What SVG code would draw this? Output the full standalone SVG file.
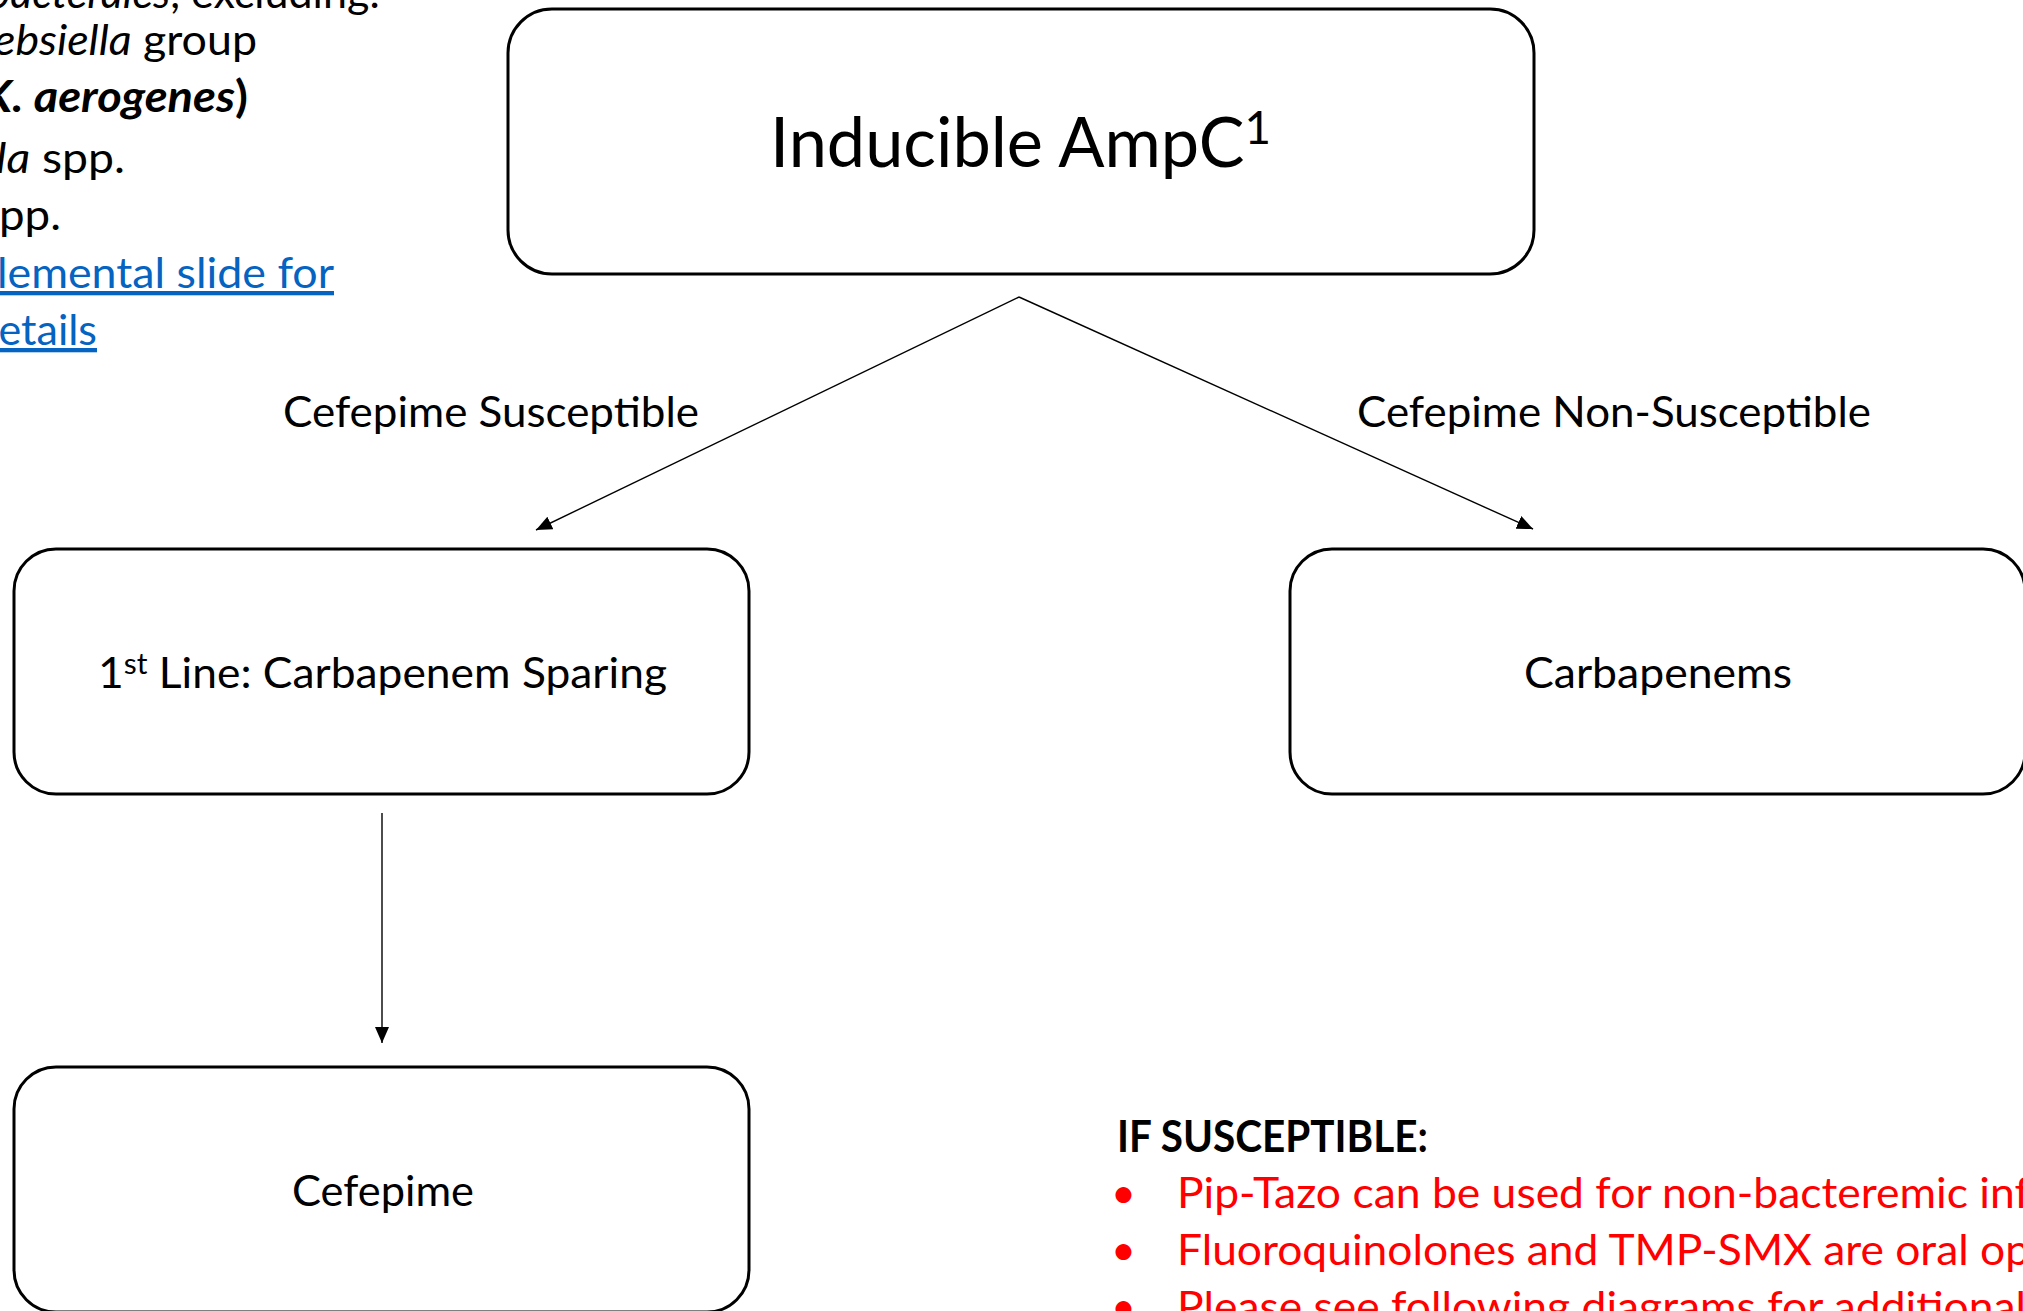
<svg xmlns="http://www.w3.org/2000/svg" width="2023" height="1311" viewBox="0 0 2023 1311">
  <style>
    text { font-family: Lato, "Open Sans", sans-serif; fill: #000; }
    .box { fill: #fff; stroke: #000; stroke-width: 3; }
    .lbl { font-size: 43px; }
    .title { font-size: 69px; }
    .it { font-style: italic; }
    .bd { font-weight: bold; }
    .link { fill: #0563C1; text-decoration: underline; }
    .red { fill: #FF0000; }
    .conn { fill: none; stroke: #000; stroke-width: 1.4; marker-end: url(#arrow); }
  </style>
  <defs>
    <marker id="arrow" viewBox="0 0 16 14" refX="16" refY="7" markerWidth="16" markerHeight="14" markerUnits="userSpaceOnUse" orient="auto">
      <path d="M0,0 L16,7 L0,14 z" fill="#000"/>
    </marker>
  </defs>

  <rect width="2023" height="1311" fill="#fff"/>

  <!-- organism list, running off the left edge -->
  <g id="organism-list" class="lbl" text-anchor="end">
    <text x="380" y="8"><tspan class="it">bacterales</tspan>, excluding:</text>
    <text x="257" y="55" textLength="263" lengthAdjust="spacingAndGlyphs"><tspan class="it">ebsiella</tspan> group</text>
    <text x="248" y="112" class="bd" textLength="266" lengthAdjust="spacingAndGlyphs"><tspan class="it">K. aerogenes</tspan>)</text>
    <text x="125" y="173" textLength="129" lengthAdjust="spacingAndGlyphs"><tspan class="it">la</tspan> spp.</text>
    <text x="61" y="230" textLength="62" lengthAdjust="spacingAndGlyphs">pp.</text>
    <text x="334" y="288" class="link" textLength="337" lengthAdjust="spacingAndGlyphs">lemental slide for</text>
    <text x="97" y="345" class="link">etails</text>
  </g>

  <!-- connectors -->
  <g id="connectors">
    <path class="conn" d="M1019,297 L536,530"/>
    <path class="conn" d="M1019,297 L1533,529"/>
    <path class="conn" d="M382,813 L382,1043"/>
  </g>

  <!-- edge labels -->
  <g id="edge-labels" class="lbl">
    <text x="283" y="427" textLength="416" lengthAdjust="spacingAndGlyphs">Cefepime Susceptible</text>
    <text x="1357" y="427" textLength="514" lengthAdjust="spacingAndGlyphs">Cefepime Non-Susceptible</text>
  </g>

  <g id="node-ampc">
    <rect class="box" x="508" y="9" width="1026" height="265" rx="44" ry="44"/>
    <text class="title" x="770" y="167" textLength="501" lengthAdjust="spacingAndGlyphs">Inducible AmpC<tspan font-size="46" dy="-23">1</tspan></text>
  </g>

  <g id="node-first-line">
    <rect class="box" x="14" y="549" width="735" height="245" rx="42" ry="42"/>
    <text class="lbl" x="98" y="688" textLength="569" lengthAdjust="spacingAndGlyphs">1<tspan font-size="29" dy="-14">st</tspan><tspan dy="14"> Line: Carbapenem Sparing</tspan></text>
  </g>

  <g id="node-carbapenems">
    <rect class="box" x="1290" y="549" width="735" height="245" rx="42" ry="42"/>
    <text class="lbl" x="1524" y="688" textLength="268" lengthAdjust="spacingAndGlyphs">Carbapenems</text>
  </g>

  <g id="node-cefepime">
    <rect class="box" x="14" y="1067" width="735" height="245" rx="42" ry="42"/>
    <text class="lbl" x="292" y="1206" textLength="182" lengthAdjust="spacingAndGlyphs">Cefepime</text>
  </g>

  <!-- susceptibility notes -->
  <g id="notes" class="lbl">
    <text x="1117" y="1152" class="bd" textLength="311" lengthAdjust="spacingAndGlyphs">IF SUSCEPTIBLE:</text>
    <text x="1111" y="1208" class="red">•</text>
    <text x="1177" y="1208" class="red" textLength="853" lengthAdjust="spacingAndGlyphs">Pip-Tazo can be used for non-bacteremic inf</text>
    <text x="1111" y="1265" class="red">•</text>
    <text x="1177" y="1265" class="red" textLength="853" lengthAdjust="spacingAndGlyphs">Fluoroquinolones and TMP-SMX are oral op</text>
    <text x="1111" y="1322" class="red">•</text>
    <text x="1177" y="1322" class="red" textLength="849" lengthAdjust="spacingAndGlyphs">Please see following diagrams for additional</text>
  </g>
</svg>
